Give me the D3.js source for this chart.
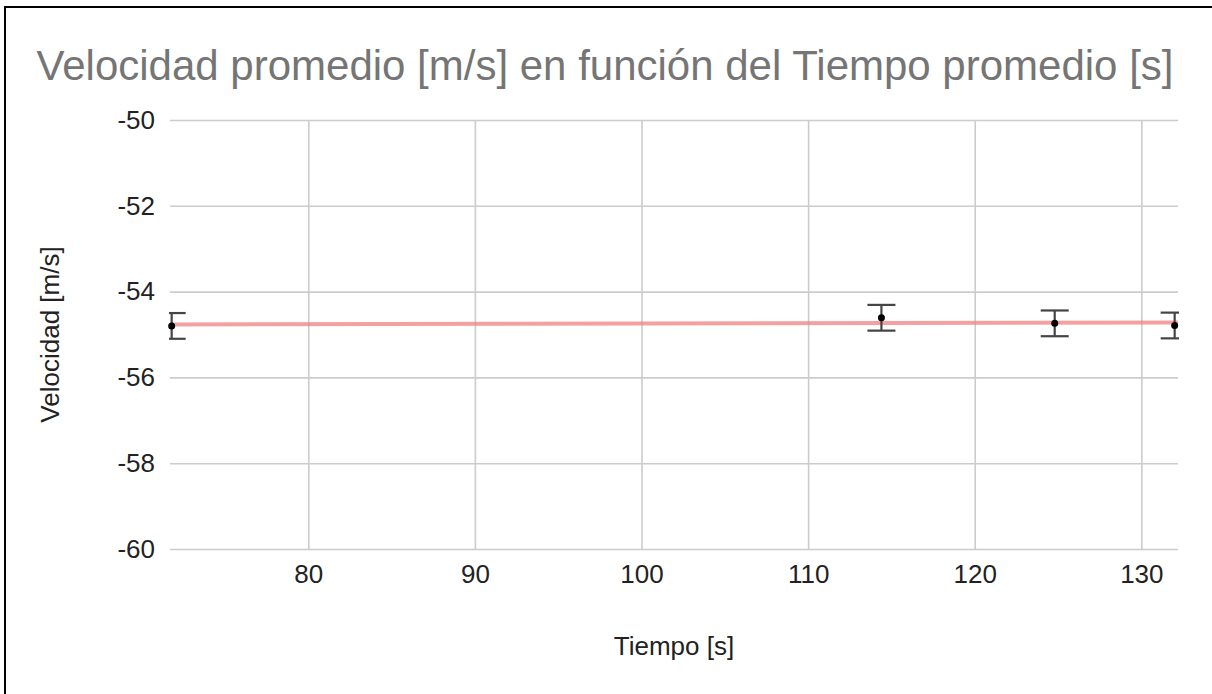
<!DOCTYPE html>
<html>
<head>
<meta charset="utf-8">
<script src="https://cdn.jsdelivr.net/npm/d3@7"></script>
<style>
  html, body { margin: 0; padding: 0; background: #fff; }
  svg { display: block; font-family: "Liberation Sans", Arial, sans-serif; }
</style>
</head>
<body>
<div id="chart"></div>
<script>
// Values
const tiempo = [71.8, 114.4, 124.8, 132.0]
const velocidad = [-54.80, -54.61, -54.74, -54.79]
const errorBar = [0.3, 0.3, 0.3, 0.3]
const xTicks = [80, 90, 100, 110, 120, 130]
const yTicks = [-60, -58, -56, -54, -52, -50]
const xDomain = [71.7, 132.2]
const yDomain = [-60, -50]

const titleText = 'Velocidad promedio [m/s] en función del Tiempo promedio [s]'
const xLabel = 'Tiempo [s]'
const yLabel = 'Velocidad [m/s]'

const svgWidth = 1212
const svgHeight = 694
const margin = {left: 170, right: 34, top: 120, bottom: 145}
const width = svgWidth - margin.left - margin.right
const height = svgHeight - margin.top - margin.bottom

const svg = d3.select('#chart')
  .append('svg')
  .attr('width', svgWidth)
  .attr('height', svgHeight)

// Frame (runs off the right and bottom edges)
svg.append('rect')
  .attr('x', 5).attr('y', 7)
  .attr('width', 1400).attr('height', 1000)
  .style('fill', 'none')
  .style('stroke', '#000')
  .style('stroke-width', 2)

// Title
svg.append('text')
  .attr('x', 605)
  .attr('y', 80)
  .style('text-anchor', 'middle')
  .style('font-size', '42px')
  .style('fill', '#757575')
  .text(titleText)

const xScale = d3.scaleLinear().domain(xDomain).range([0, width])
const yScale = d3.scaleLinear().domain(yDomain).range([height, 0])

const gChart = svg.append('g')
  .attr('transform', `translate(${margin.left},${margin.top})`)

// Gridlines
gChart.append('g')
  .call(d3.axisLeft(yScale).tickValues(yTicks).tickSize(-width).tickFormat(''))
  .call(g => g.select('.domain').remove())
  .call(g => g.selectAll('line').style('stroke', '#cccccc').style('stroke-width', 1.6))

gChart.append('g')
  .attr('transform', `translate(0,${height})`)
  .call(d3.axisBottom(xScale).tickValues(xTicks).tickSize(height).tickFormat(''))
  .call(g => g.select('.domain').remove())
  .call(g => g.selectAll('line')
    .attr('y2', -height)
    .style('stroke', '#cccccc').style('stroke-width', 1.6))

// Tick labels (plain hyphen for negatives, as in the reference)
const lAxis = gChart.append('g')
  .call(d3.axisLeft(yScale).tickValues(yTicks).tickSize(0).tickPadding(15)
    .tickFormat(d => String(d)))
lAxis.select('.domain').remove()
lAxis.selectAll('text')
  .style('font-size', '26px')
  .style('fill', '#222')
  .style('font-family', '"Liberation Sans", Arial, sans-serif')

const bAxis = gChart.append('g')
  .attr('transform', `translate(0,${height})`)
  .call(d3.axisBottom(xScale).tickValues(xTicks).tickSize(0).tickPadding(16)
    .tickFormat(d => String(d)))
bAxis.select('.domain').remove()
bAxis.selectAll('text')
  .style('font-size', '26px')
  .style('fill', '#222')
  .style('font-family', '"Liberation Sans", Arial, sans-serif')

// Axis titles
svg.append('text')
  .attr('x', margin.left + width / 2)
  .attr('y', 655)
  .style('text-anchor', 'middle')
  .style('font-size', '26px')
  .style('fill', '#222')
  .text(xLabel)

svg.append('text')
  .attr('transform', `translate(59,${margin.top + height / 2}) rotate(270)`)
  .style('text-anchor', 'middle')
  .style('font-size', '26px')
  .style('fill', '#222')
  .text(yLabel)

// Linear trendline from the points
const points = tiempo.map((t, i) => ({x: t, y: velocidad[i], e: errorBar[i]}))
const mx = d3.mean(points, d => d.x)
const my = d3.mean(points, d => d.y)
const slope = d3.sum(points, d => (d.x - mx) * (d.y - my)) / d3.sum(points, d => (d.x - mx) ** 2)
const trend = xDomain.map(x => ({x: x, y: my + slope * (x - mx)}))

const linePath = d3.line()
  .x(d => xScale(d.x))
  .y(d => yScale(d.y))

gChart.append('path')
  .attr('d', linePath(trend))
  .style('fill', 'none')
  .style('stroke', '#f08080')
  .style('stroke-opacity', 0.75)
  .style('stroke-width', 4)

// Error bars
const capHalf = 14
svg.append('clipPath').attr('id', 'plotClip')
  .append('rect').attr('x', -1).attr('y', -5).attr('width', width + 2).attr('height', height + 10)

const gErr = gChart.append('g')
  .attr('clip-path', 'url(#plotClip)')
  .style('stroke', '#444')
  .style('stroke-width', 2.2)

gErr.selectAll('.bar')
  .data(points)
  .join('line')
  .attr('class', 'bar')
  .attr('x1', d => xScale(d.x)).attr('x2', d => xScale(d.x))
  .attr('y1', d => yScale(d.y - d.e)).attr('y2', d => yScale(d.y + d.e))

gErr.selectAll('.capTop')
  .data(points)
  .join('line')
  .attr('class', 'capTop')
  .attr('x1', d => xScale(d.x) - capHalf).attr('x2', d => xScale(d.x) + capHalf)
  .attr('y1', d => yScale(d.y + d.e)).attr('y2', d => yScale(d.y + d.e))

gErr.selectAll('.capBottom')
  .data(points)
  .join('line')
  .attr('class', 'capBottom')
  .attr('x1', d => xScale(d.x) - capHalf).attr('x2', d => xScale(d.x) + capHalf)
  .attr('y1', d => yScale(d.y - d.e)).attr('y2', d => yScale(d.y - d.e))

// Points
gChart.selectAll('.pt')
  .data(points)
  .join('circle')
  .attr('class', 'pt')
  .attr('cx', d => xScale(d.x))
  .attr('cy', d => yScale(d.y))
  .attr('r', 3.5)
  .style('fill', '#000')
</script>
</body>
</html>
